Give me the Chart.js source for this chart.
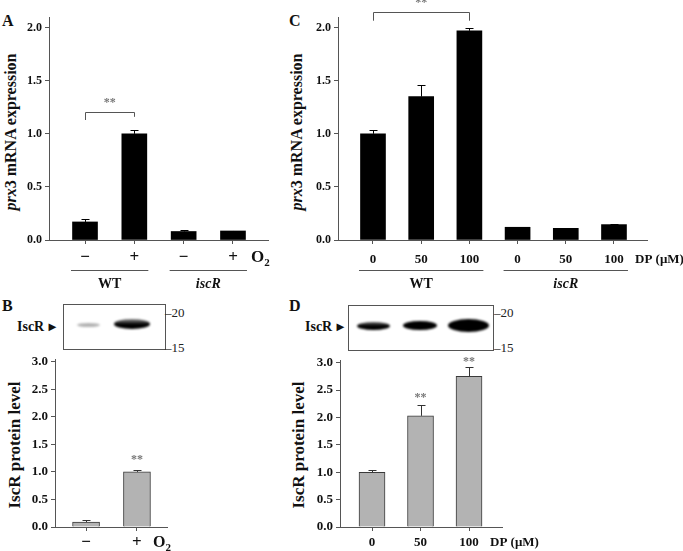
<!DOCTYPE html>
<html lang="en">
<head>
  <meta charset="UTF-8">
  <title>prx3 mRNA and IscR protein levels</title>
  <script src="https://cdn.jsdelivr.net/npm/chart.js"></script>
  <style>
    body { margin: 0; background: #fff; width: 683px; height: 551px; position: relative; overflow: hidden;
           font-family: "Liberation Serif", serif; color: #111; }
    .plot { position: absolute; }
    .lbl { position: absolute; font-weight: bold; white-space: nowrap; line-height: 1; }
    .ytitle { position: absolute; transform: translate(-50%, -50%) rotate(-90deg); font-weight: bold;
              white-space: nowrap; line-height: 1; }
    .blot { position: absolute; box-sizing: border-box; border: 1px solid #555; background: #fff; }
    .band { position: absolute; border-radius: 50%; }
    .mk { position: absolute; font-size: 13px; line-height: 1; white-space: nowrap; color: #222; }
  </style>
</head>
<body>
  <!-- panel letters -->
  <div class="lbl" style="left:2px;top:13px;font-size:16px">A</div>
  <div class="lbl" style="left:289px;top:13px;font-size:16px">C</div>
  <div class="lbl" style="left:2px;top:298px;font-size:16px">B</div>
  <div class="lbl" style="left:289px;top:298px;font-size:16px">D</div>

  <!-- axis titles -->
  <div class="ytitle" style="left:11px;top:132px;font-size:16px"><i>prx</i>3 mRNA expression</div>
  <div class="ytitle" style="left:297px;top:132px;font-size:16px"><i>prx</i>3 mRNA expression</div>
  <div class="ytitle" style="left:14px;top:445px;font-size:17px">IscR protein level</div>
  <div class="ytitle" style="left:298px;top:445px;font-size:17px">IscR protein level</div>

  <!-- western blots -->
  <div class="lbl" style="left:17px;top:320px;font-size:14px">IscR</div>
  <div class="lbl" style="left:46px;top:320px;font-size:13px">&#9658;</div>
  <div class="blot" style="left:63px;top:304px;width:103px;height:46px"></div>
  <div class="band" style="left:77px;top:323px;width:23px;height:4px;background:rgba(0,0,0,0.3);filter:blur(1px)"></div>
  <div class="band" style="left:114px;top:319px;width:36px;height:10px;background:linear-gradient(to bottom,rgba(0,0,0,0.45),#000 55%);filter:blur(1px)"></div>
  <div class="mk" style="left:165px;top:306px">&ndash;20</div>
  <div class="mk" style="left:165px;top:341px">&ndash;15</div>

  <div class="lbl" style="left:305px;top:320px;font-size:14px">IscR</div>
  <div class="lbl" style="left:334px;top:320px;font-size:13px">&#9658;</div>
  <div class="blot" style="left:348px;top:305px;width:146px;height:46px"></div>
  <div class="band" style="left:357px;top:322px;width:33px;height:8px;background:linear-gradient(to bottom,rgba(0,0,0,0.6),#000 50%);filter:blur(0.8px)"></div>
  <div class="band" style="left:403px;top:321px;width:34px;height:9px;background:#000;filter:blur(0.8px)"></div>
  <div class="band" style="left:448px;top:319px;width:41px;height:13px;background:#000;filter:blur(0.8px)"></div>
  <div class="mk" style="left:494px;top:306px">&ndash;20</div>
  <div class="mk" style="left:494px;top:341px">&ndash;15</div>

  <div class="plot" style="left:0;top:0"><canvas id="chartA" width="340" height="300"></canvas></div>
  <div class="plot" style="left:289px;top:0"><canvas id="chartC" width="394" height="300"></canvas></div>
  <div class="plot" style="left:0;top:340px"><canvas id="chartB" width="289" height="211"></canvas></div>
  <div class="plot" style="left:289px;top:340px"><canvas id="chartD" width="394" height="211"></canvas></div>

  <script>
    // values
    const o2Labels = ['\u2212', '+', '\u2212', '+'];
    const prxO2Values = [0.17, 1.00, 0.08, 0.085];
    const prxO2Errors = [0.025, 0.04, 0.012, 0.004];

    const dpLabels = ['0', '50', '100', '0', '50', '100'];
    const prxDpValues = [1.00, 1.35, 1.97, 0.12, 0.11, 0.145];
    const prxDpErrors = [0.04, 0.11, 0.03, 0.006, 0.005, 0.006];

    const iscrO2Labels = ['\u2212', '+'];
    const iscrO2Values = [0.09, 1.00];
    const iscrO2Errors = [0.03, 0.03];

    const iscrDpLabels = ['0', '50', '100'];
    const iscrDpValues = [1.00, 2.03, 2.75];
    const iscrDpErrors = [0.04, 0.19, 0.18];

    const mrnaTicks = [0, 0.5, 1.0, 1.5, 2.0];
    const proteinTicks = [0, 0.5, 1.0, 1.5, 2.0, 2.5, 3.0];

    const SERIF = '"Liberation Serif", "Times New Roman", serif';
    const AXIS = '#555';

    // error bars, brackets, asterisks, strain groups and unit labels
    const extras = {
      id: 'extras',
      afterDatasetsDraw(chart, args, o) {
        const ctx = chart.ctx, y = chart.scales.y;
        const ds = chart.data.datasets[0];
        ctx.save();
        ctx.strokeStyle = o.errColor;
        ctx.lineWidth = 1;
        chart.getDatasetMeta(0).data.forEach((bar, i) => {
          const v = ds.data[i].y, e = ds.errors[i];
          const px = Math.round(bar.x) + 0.5;
          const y1 = Math.round(y.getPixelForValue(v + e)) + 0.5;
          ctx.beginPath();
          ctx.moveTo(px, y.getPixelForValue(v));
          ctx.lineTo(px, y1);
          ctx.moveTo(px - 4, y1);
          ctx.lineTo(px + 4, y1);
          ctx.stroke();
        });
        ctx.restore();
      },
      afterDraw(chart, args, o) {
        const ctx = chart.ctx, x = chart.scales.x, y = chart.scales.y, area = chart.chartArea;
        ctx.save();
        ctx.strokeStyle = AXIS;
        ctx.lineWidth = 1;
        (o.brackets || []).forEach(b => {
          const x0 = Math.round(x.getPixelForValue(b.from)) + 0.5;
          const x1 = Math.round(x.getPixelForValue(b.to)) + 0.5;
          const yt = Math.round(y.getPixelForValue(b.top)) + 0.5;
          ctx.beginPath();
          ctx.moveTo(x0, y.getPixelForValue(b.left));
          ctx.lineTo(x0, yt);
          ctx.lineTo(x1, yt);
          ctx.lineTo(x1, y.getPixelForValue(b.right));
          ctx.stroke();
        });
        ctx.fillStyle = '#777';
        ctx.font = 'bold 12px ' + SERIF;
        ctx.textAlign = 'center';
        ctx.textBaseline = 'middle';
        (o.stars || []).forEach(s => {
          ctx.fillText('**', x.getPixelForValue(s.x), y.getPixelForValue(s.y));
        });
        ctx.fillStyle = '#111';
        (o.groups || []).forEach(g => {
          const xa = x.getPixelForValue(g.from) - 14, xb = x.getPixelForValue(g.to) + 14;
          const ly = Math.round(area.bottom + 30) + 0.5;
          ctx.beginPath();
          ctx.moveTo(xa, ly);
          ctx.lineTo(xb, ly);
          ctx.stroke();
          ctx.font = (g.italic ? 'italic ' : '') + 'bold 14px ' + SERIF;
          ctx.fillText(g.label, (xa + xb) / 2, area.bottom + 44);
        });
        if (o.unit) {
          const u = o.unit;
          ctx.textAlign = 'left';
          ctx.font = 'bold ' + u.size + 'px ' + SERIF;
          const ux = area.right + u.dx, uy = area.bottom + u.dy;
          ctx.fillText(u.text, ux, uy);
          if (u.sub) {
            const w = ctx.measureText(u.text).width;
            ctx.font = 'bold 11px ' + SERIF;
            ctx.fillText(u.sub, ux + w, uy + 5);
          }
        }
        ctx.restore();
      }
    };

    function makeChart(id, c) {
      return new Chart(document.getElementById(id), {
        type: 'bar',
        data: {
          datasets: [{
            data: c.values.map((v, i) => ({ x: i, y: v })),
            errors: c.errors,
            backgroundColor: c.fill,
            borderColor: c.edge,
            borderWidth: c.edgeWidth,
            borderSkipped: 'bottom',
            barThickness: c.barWidth
          }]
        },
        options: {
          responsive: false,
          animation: false,
          events: [],
          layout: { padding: c.padding },
          plugins: { legend: { display: false }, tooltip: { enabled: false }, extras: c.extras },
          scales: {
            x: {
              type: 'linear', min: c.xMin, max: c.xMax, offset: false,
              grid: { offset: false, drawOnChartArea: false, tickLength: 4, tickColor: AXIS },
              border: { color: AXIS },
              afterBuildTicks: s => { s.ticks = c.labels.map((_, i) => ({ value: i })); },
              afterFit: s => { s.height = c.xHeight; },
              ticks: {
                callback: v => c.labels[v], color: '#111', padding: c.xPad,
                font: { family: SERIF, size: c.xSize, weight: 'bold' },
                maxRotation: 0, autoSkip: false
              }
            },
            y: {
              min: 0, max: c.yMax,
              grid: { drawOnChartArea: false, tickLength: 4, tickColor: AXIS },
              border: { color: AXIS },
              afterBuildTicks: s => { s.ticks = c.yTicks.map(v => ({ value: v })); },
              afterFit: s => { s.width = c.yWidth; },
              ticks: {
                callback: v => v.toFixed(1), color: '#111', padding: 3,
                font: { family: SERIF, size: c.ySize, weight: 'bold' }
              }
            }
          }
        },
        plugins: [extras]
      });
    }

    // A: prx3 mRNA, O2
    makeChart('chartA', {
      values: prxO2Values, errors: prxO2Errors, labels: o2Labels,
      fill: '#000', edge: '#000', edgeWidth: 0, barWidth: 25,
      padding: { left: 0, top: 17, right: 72, bottom: 0 },
      xMin: -0.73, xMax: 3.71, xHeight: 60, xPad: 3, xSize: 17,
      yMax: 2.1, yTicks: mrnaTicks, yWidth: 49, ySize: 12,
      extras: {
        errColor: '#000',
        brackets: [{ from: 0, to: 1, top: 1.21, left: 1.13, right: 1.16 }],
        stars: [{ x: 0.5, y: 1.29 }],
        groups: [{ from: 0, to: 1, label: 'WT' }, { from: 2, to: 3, label: 'iscR', italic: true }],
        unit: { text: 'O', sub: '2', dx: -17, dy: 18, size: 17 }
      }
    });

    // C: prx3 mRNA, DP
    makeChart('chartC', {
      values: prxDpValues, errors: prxDpErrors, labels: dpLabels,
      fill: '#000', edge: '#000', edgeWidth: 0, barWidth: 25,
      padding: { left: 0, top: 17, right: 36, bottom: 0 },
      xMin: -0.726, xMax: 5.685, xHeight: 60, xPad: 8, xSize: 13,
      yMax: 2.1, yTicks: mrnaTicks, yWidth: 49, ySize: 12,
      extras: {
        errColor: '#000',
        brackets: [{ from: 0, to: 2, top: 2.15, left: 2.065, right: 2.065 }],
        stars: [{ x: 1, y: 2.235 }],
        groups: [{ from: 0, to: 2, label: 'WT' }, { from: 3, to: 5, label: 'iscR', italic: true }],
        unit: { text: 'DP (\u03bcM)', dx: -12, dy: 20, size: 13 }
      }
    });

    // B: IscR protein, O2
    makeChart('chartB', {
      values: iscrO2Values, errors: iscrO2Errors, labels: iscrO2Labels,
      fill: '#b3b3b3', edge: '#3a3a3a', edgeWidth: 1, barWidth: 27,
      padding: { left: 0, top: 19, right: 122, bottom: 0 },
      xMin: -0.61, xMax: 1.59, xHeight: 24, xPad: 1, xSize: 17,
      yMax: 3.05, yTicks: proteinTicks, yWidth: 55, ySize: 13,
      extras: {
        errColor: '#333',
        stars: [{ x: 1, y: 1.22 }],
        unit: { text: 'O', sub: '2', dx: -14, dy: 16, size: 16 }
      }
    });

    // D: IscR protein, DP
    makeChart('chartD', {
      values: iscrDpValues, errors: iscrDpErrors, labels: iscrDpLabels,
      fill: '#b3b3b3', edge: '#3a3a3a', edgeWidth: 1, barWidth: 26,
      padding: { left: 0, top: 20, right: 181, bottom: 0 },
      xMin: -0.66, xMax: 2.68, xHeight: 24, xPad: 4, xSize: 13,
      yMax: 3.05, yTicks: proteinTicks, yWidth: 51, ySize: 13,
      extras: {
        errColor: '#333',
        stars: [{ x: 1, y: 2.36 }, { x: 2, y: 3.02 }],
        unit: { text: 'DP (\u03bcM)', dx: -12, dy: 16, size: 13 }
      }
    });
  </script>
</body>
</html>
